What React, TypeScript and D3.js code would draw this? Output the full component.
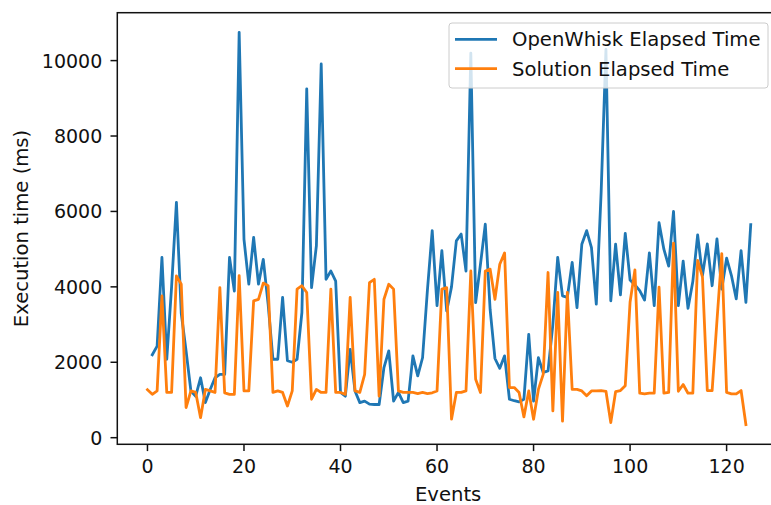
import React from 'react';
import * as d3 from 'd3';

// values (ms); OpenWhisk series starts at event 1, Solution at event 0
const openWhiskMs = [
  2200, 2430, 4780, 2080, 4000, 6240, 3300, 2300, 1240, 1100,
  1590, 930, 1280, 1590, 1680, 1680, 4780, 3890, 10750, 5260,
  4070, 5310, 4070, 4730, 3540, 2080, 2080, 3720, 2040, 2000,
  2080, 3320, 9250, 3980, 5090, 9910, 4200, 4420, 4150, 1200,
  1100, 2340, 1240, 930, 970, 890, 880, 880, 1860, 2300,
  970, 1200, 930, 970, 2170, 1640, 2120, 3900, 5490, 3500,
  4960, 3360, 4000, 5220, 5400, 4420, 10200, 3580, 4600, 5660,
  3400, 2100, 1840, 2170, 1020, 980, 950, 1020, 2740, 970,
  2120, 1730, 1770, 3000, 4780, 3760, 3720, 4650, 3450, 5130,
  5490, 5040, 3540, 6500, 10300, 3630, 5130, 3790, 5420, 4180,
  4050, 3900, 3650, 4900, 3500, 5700, 5000, 4550, 6000, 3500,
  4680, 3430, 4140, 5380, 4300, 5140, 4030, 5270, 3940, 4760,
  4300, 3680, 4960, 3590, 5650,
];
const solutionMs = [
  1270, 1150, 1240, 3760, 1200, 1200, 4290, 4070, 800, 1240,
  1200, 530, 1280, 1240, 1200, 3980, 1190, 1150, 1150, 4300,
  1240, 1240, 3630, 3670, 4100, 4030, 1200, 1240, 1200, 840,
  1240, 3940, 4030, 3850, 1020, 1280, 1200, 1200, 3940, 1200,
  1200, 1150, 3720, 1240, 1200, 1680, 4110, 4200, 1100, 3670,
  4070, 3940, 1240, 1200, 1200, 1200, 1170, 1200, 1170, 1190,
  1240, 3940, 3980, 490, 1200, 1200, 1240, 4420, 1550, 1200,
  4420, 4470, 3670, 4600, 4900, 1330, 1330, 1200, 550, 1240,
  490, 1280, 1680, 4380, 710, 3850, 440, 3850, 1280, 1280,
  1240, 1110, 1240, 1240, 1250, 1230, 400, 1220, 1250, 1380,
  3600, 4450, 1180, 1160, 1180, 1180, 3990, 1180, 1200, 5160,
  1230, 1410, 1180, 1180, 4700, 4260, 1250, 1250, 3100, 4880,
  1200, 1160, 1160, 1250, 345,
];
const seriesNames = ['OpenWhisk Elapsed Time', 'Solution Elapsed Time'];
const seriesColors = ['#1f77b4', '#ff7f0e'];
const xTicks = [0, 20, 40, 60, 80, 100, 120];
const yTicks = [0, 2000, 4000, 6000, 8000, 10000];

const W = 771;
const H = 505;
const left = 117.3;
const top = 12.7;
const bottom = 444.3;
const right = 780.9;
const font = '"DejaVu Sans", sans-serif';
const fs = 19;
const labelFs = 19.6;

const owPts: [number, number][] = openWhiskMs.map((v, i) => [i + 1, v]);
const solPts: [number, number][] = solutionMs.map((v, i) => [i, v]);

export default function App() {
  const allX = [...owPts, ...solPts].map(d => d[0]);
  const allY = [...owPts, ...solPts].map(d => d[1]);
  const [x0, x1] = d3.extent(allX) as [number, number];
  const [y0, y1] = d3.extent(allY) as [number, number];
  const px = (x1 - x0) * 0.05;
  const py = (y1 - y0) * 0.05;

  const x = d3.scaleLinear().domain([x0 - px, x1 + px]).range([left, right]);
  const y = d3.scaleLinear().domain([y0 - py, y1 + py]).range([bottom, top]);

  const line = d3
    .line<[number, number]>()
    .x(d => x(d[0]))
    .y(d => y(d[1]));

  const legendX = 449;
  const legendY = 23;

  return (
    <svg
      width={W}
      height={H}
      style={{ position: 'absolute', left: 0, top: 0, background: '#fff' }}
      fontFamily={font}
    >
      <rect x={0} y={0} width={W} height={H} fill="#fff" />
      {[owPts, solPts].map((pts, k) => (
        <path
          key={k}
          d={line(pts) || ''}
          fill="none"
          stroke={seriesColors[k]}
          strokeWidth={2.8}
          strokeLinejoin="round"
          strokeLinecap="square"
        />
      ))}

      {/* spines */}
      <rect
        x={left}
        y={top}
        width={right - left}
        height={bottom - top}
        fill="none"
        stroke="#111"
        strokeWidth={1.5}
      />

      {/* x axis */}
      {xTicks.map(t => (
        <g key={t} transform={`translate(${x(t)},${bottom})`}>
          <line y2={6.8} stroke="#111" strokeWidth={1.5} />
          <text y={29} textAnchor="middle" fontSize={fs} fill="#111">
            {t}
          </text>
        </g>
      ))}
      <text x={(left + 771) / 2 + 4} y={501} textAnchor="middle" fontSize={labelFs} fill="#111">
        Events
      </text>

      {/* y axis */}
      {yTicks.map(t => (
        <g key={t} transform={`translate(${left},${y(t)})`}>
          <line x2={-6.8} stroke="#111" strokeWidth={1.5} />
          <text x={-15} y={7} textAnchor="end" fontSize={fs} fill="#111">
            {t}
          </text>
        </g>
      ))}
      <text
        transform={`translate(28,${(top + bottom) / 2}) rotate(-90)`}
        textAnchor="middle"
        fontSize={labelFs}
        fill="#111"
      >
        Execution time (ms)
      </text>

      {/* legend */}
      <rect
        x={legendX}
        y={legendY}
        width={768 - legendX}
        height={65}
        rx={3}
        fill="#fff"
        fillOpacity={0.8}
        stroke="#ccc"
        strokeWidth={1}
      />
      {seriesNames.map((name, k) => (
        <g key={name} transform={`translate(${legendX},${legendY + 16.3 + k * 29.4})`}>
          <line x1={6} x2={48} stroke={seriesColors[k]} strokeWidth={2.8} />
          <text x={63} y={7} fontSize={labelFs} fill="#111">
            {name}
          </text>
        </g>
      ))}
    </svg>
  );
}
